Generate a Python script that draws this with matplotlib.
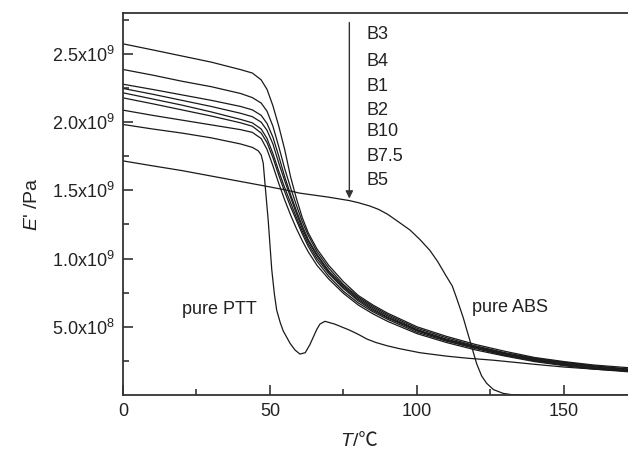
import numpy as np
import matplotlib
matplotlib.use('Agg')
import matplotlib.pyplot as plt
from matplotlib.ticker import FixedLocator, FixedFormatter

plt.rcParams['font.family'] = ['Liberation Sans', 'Noto Sans CJK SC']
plt.rcParams['mathtext.fontset'] = 'custom'
plt.rcParams['mathtext.rm'] = 'Liberation Sans'
plt.rcParams['mathtext.it'] = 'Liberation Sans:italic'

# storage modulus E' (units of 1e9 Pa)
T_blend = [0, 10, 20, 30, 40, 44, 47, 49, 51, 53, 55, 57, 59, 61, 63, 66, 70,
           75, 80, 85, 90, 100, 110, 120, 130, 140, 150, 160, 172]
B3 = [2.574, 2.53, 2.485, 2.44, 2.385, 2.36, 2.31, 2.24, 2.12, 1.97, 1.80, 1.60, 1.44,
      1.30, 1.19, 1.07, 0.95, 0.83, 0.73, 0.66, 0.60, 0.50, 0.43, 0.37, 0.32, 0.275,
      0.245, 0.22, 0.20]
B4 = [2.386, 2.345, 2.30, 2.26, 2.21, 2.18, 2.14, 2.08, 1.97, 1.82, 1.66, 1.52, 1.39,
      1.27, 1.17, 1.05, 0.93, 0.81, 0.72, 0.65, 0.59, 0.49, 0.42, 0.36, 0.31, 0.27,
      0.24, 0.215, 0.19]
B1 = [2.278, 2.24, 2.20, 2.16, 2.115, 2.09, 2.05, 1.99, 1.89, 1.75, 1.60, 1.47, 1.35,
      1.24, 1.14, 1.03, 0.91, 0.80, 0.71, 0.64, 0.58, 0.48, 0.41, 0.355, 0.305, 0.265,
      0.235, 0.21, 0.19]
B2 = [2.247, 2.205, 2.16, 2.115, 2.065, 2.04, 2.00, 1.94, 1.84, 1.70, 1.57, 1.45, 1.33,
      1.22, 1.13, 1.02, 0.90, 0.79, 0.70, 0.63, 0.57, 0.475, 0.405, 0.35, 0.30, 0.26,
      0.23, 0.205, 0.185]
B10 = [2.215, 2.17, 2.125, 2.075, 2.02, 1.995, 1.95, 1.88, 1.77, 1.64, 1.52, 1.41, 1.30,
       1.20, 1.11, 1.00, 0.89, 0.78, 0.69, 0.62, 0.565, 0.47, 0.40, 0.345, 0.295, 0.255,
       0.225, 0.20, 0.18]
B75 = [2.178, 2.135, 2.09, 2.045, 1.995, 1.97, 1.92, 1.85, 1.74, 1.61, 1.49, 1.38, 1.28,
       1.18, 1.09, 0.98, 0.87, 0.76, 0.675, 0.61, 0.555, 0.46, 0.395, 0.34, 0.29, 0.25,
       0.22, 0.195, 0.175]
B5 = [2.088, 2.05, 2.015, 1.98, 1.945, 1.925, 1.88, 1.80, 1.68, 1.55, 1.43, 1.32, 1.22,
      1.13, 1.05, 0.95, 0.85, 0.745, 0.66, 0.595, 0.54, 0.45, 0.385, 0.33, 0.285, 0.245,
      0.215, 0.19, 0.17]

T_ptt = [0, 10, 20, 30, 40, 44, 46, 47, 47.7, 48.5, 49.4, 50.6, 51.5, 52.3, 53.5, 54.5,
         56.8, 58.5, 60.2, 62, 63.6, 65.9, 67, 68.7, 72, 77, 80, 83, 86, 90, 94, 101,
         110, 117, 126, 140, 150, 160, 172]
PTT = [1.983, 1.95, 1.92, 1.885, 1.84, 1.815, 1.79, 1.76, 1.70, 1.50, 1.28, 0.92, 0.74,
       0.62, 0.53, 0.47, 0.38, 0.33, 0.30, 0.31, 0.37, 0.48, 0.52, 0.54, 0.52, 0.476,
       0.445, 0.41, 0.385, 0.36, 0.34, 0.31, 0.285, 0.27, 0.255, 0.225, 0.205, 0.19,
       0.175]

T_abs = [0, 10, 20, 30, 40, 50, 56, 60, 70, 77, 80, 84, 87, 90, 93, 97.6, 101, 104.4,
         107, 110, 112, 113.5, 115.7, 118, 120.3, 122, 123.7, 126, 129.3, 132, 140, 172]
ABS = [1.716, 1.68, 1.645, 1.605, 1.565, 1.525, 1.50, 1.48, 1.45, 1.425, 1.41, 1.385,
       1.36, 1.325, 1.28, 1.21, 1.14, 1.06, 0.98, 0.87, 0.80, 0.71, 0.57, 0.40, 0.23,
       0.14, 0.086, 0.04, 0.012, 0.003, 0.0, 0.0]

blend_names = ['B3', 'B4', 'B1', 'B2', 'B10', 'B7.5', 'B5']
blend_label_y = [2.64, 2.447, 2.264, 2.088, 1.929, 1.751, 1.575]

fig = plt.figure(figsize=(6.28, 4.54), dpi=100)
ax = fig.add_axes([123 / 628, 1 - 395 / 454, 1 - 123 / 628, (395 - 13) / 454])

line_kw = dict(color='#1a1a1a', lw=0.9)
for vals in [B3, B4, B1, B2, B10, B75, B5]:
    ax.plot(T_blend, np.array(vals) * 1e9, **line_kw)
ax.plot(T_ptt, np.array(PTT) * 1e9, **line_kw)
ax.plot(T_abs, np.array(ABS) * 1e9, **line_kw)

ax.set_xlim(0, 171.8)
ax.set_ylim(0, 2.8e9)

txt_color = '#222222'
ax.annotate('', xy=(77, 1.44e9), xytext=(77, 2.73e9),
            arrowprops=dict(arrowstyle='-|>', color='#333333', lw=1.0,
                            mutation_scale=11, shrinkA=0, shrinkB=0))
for name, yv in zip(blend_names, blend_label_y):
    ax.text(82.8, yv * 1e9, name, fontsize=13, color=txt_color, va='center', ha='left')

ax.text(20, 0.63e9, 'pure PTT', fontsize=13, color=txt_color, va='center', ha='left')
ax.text(118.6, 0.64e9, 'pure ABS', fontsize=13, color=txt_color, va='center', ha='left')

# ticks
ax.xaxis.set_major_locator(FixedLocator([0, 50, 100, 150]))
ax.xaxis.set_minor_locator(FixedLocator([25, 75, 125]))
yt = [0.5e9, 1.0e9, 1.5e9, 2.0e9, 2.5e9]
ytl = [r'5.0x10$^{8}$', r'1.0x10$^{9}$', r'1.5x10$^{9}$', r'2.0x10$^{9}$', r'2.5x10$^{9}$']
ax.yaxis.set_major_locator(FixedLocator(yt))
ax.yaxis.set_major_formatter(FixedFormatter(ytl))
ax.yaxis.set_minor_locator(FixedLocator([0.25e9, 0.75e9, 1.25e9, 1.75e9, 2.25e9, 2.75e9]))
ax.tick_params(which='both', direction='in', colors='#333333', width=1.2,
               labelsize=13, labelcolor=txt_color, top=False, right=False)
ax.tick_params(which='major', length=7, pad=6)
ax.tick_params(which='minor', length=4)

for s in ['left', 'bottom', 'top']:
    ax.spines[s].set_color('#333333')
    ax.spines[s].set_linewidth(1.3)
ax.spines['right'].set_visible(False)

ax.set_ylabel(r"$E$' /Pa", fontsize=14, color=txt_color, labelpad=8)

# x label: italic T followed by "/℃" (℃ needs the CJK font fallback)
t_lab = fig.text(340 / 628, 1 - 441 / 454, 'T', fontsize=14, style='italic',
                 color=txt_color, ha='left', va='center')
ax.annotate('/℃', xy=(1, 0.5), xycoords=t_lab, xytext=(1, 0),
            textcoords='offset points', fontsize=14, color=txt_color,
            ha='left', va='center')

fig.savefig('out.png', dpi=100)
